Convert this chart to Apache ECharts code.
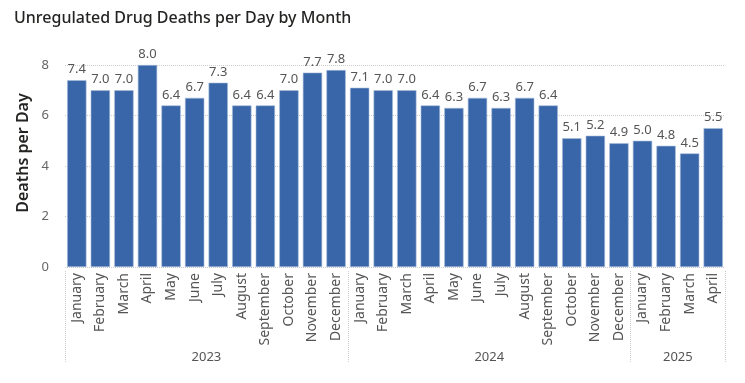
<!DOCTYPE html>
<html><head><meta charset="utf-8">
<script src="https://cdn.jsdelivr.net/npm/echarts@6/dist/echarts.min.js"></script>
<style>html,body{margin:0;padding:0;background:#fff}#c{width:745px;height:383px}</style>
</head><body><div id="c"></div>
<script>
const months = ['January','February','March','April','May','June','July','August','September','October','November','December',
  'January','February','March','April','May','June','July','August','September','October','November','December',
  'January','February','March','April'];
const values = [7.4,7.0,7.0,8.0,6.4,6.7,7.3,6.4,6.4,7.0,7.7,7.8,
  7.1,7.0,7.0,6.4,6.3,6.7,6.3,6.7,6.4,5.1,5.2,4.9,
  5.0,4.8,4.5,5.5];
const years = ['2023','2024','2025'];
const yearStarts = [0,12,24,28];
const yearCenters = [6,18,26];
const yTicks = [0,2,4,6,8];

const font = '"Noto Sans", "Open Sans", sans-serif';
const chart = echarts.init(document.getElementById('c'));
chart.setOption({
  animation:false,
  textStyle:{fontFamily:font},
  title:{text:'Unregulated Drug Deaths per Day by Month',left:9,top:5,
    textStyle:{fontFamily:font,fontSize:16,fontWeight:500,color:'#252423'}},
  graphic:[{type:'text',x:23,y:153,rotation:Math.PI/2,
    style:{text:'Deaths per Day',fontFamily:font,fontSize:16,fontWeight:600,fill:'#252423',
      align:'center',verticalAlign:'middle'}}],
  grid:{left:65,right:20,top:65,bottom:116},
  xAxis:[{
    type:'category',data:months,
    axisLine:{show:false},axisTick:{show:false},
    axisLabel:{rotate:90,fontSize:14,color:'#555',margin:6,interval:0}
  },{
    type:'value',min:0,max:28,position:'bottom',offset:95,
    axisLine:{show:false},
    splitLine:{show:false},
    axisTick:{show:true,inside:true,length:92,customValues:yearStarts,
      lineStyle:{color:'#ccc',type:'dotted',width:1}},
    axisLabel:{inside:true,margin:-2,fontSize:13,color:'#555',customValues:yearCenters,
      formatter:v=>{const i=yearCenters.indexOf(v);return i>=0?years[i]:'';}}
  }],
  yAxis:{type:'value',min:yTicks[0],max:yTicks[yTicks.length-1],interval:2,
    axisLabel:{fontSize:13,color:'#666',margin:16},
    splitLine:{lineStyle:{color:'#ccc',type:'dotted'}},
    axisLine:{show:false},axisTick:{show:false}},
  series:[{
    type:'bar',data:values,xAxisIndex:0,barCategoryGap:'18%',
    itemStyle:{color:'#3966a8',borderColor:'#a9bedb',borderWidth:0.6},
    label:{show:true,position:'top',distance:4,fontSize:13,color:'#555',
      formatter:p=>p.value.toFixed(1)}
  }]
});
</script></body></html>
